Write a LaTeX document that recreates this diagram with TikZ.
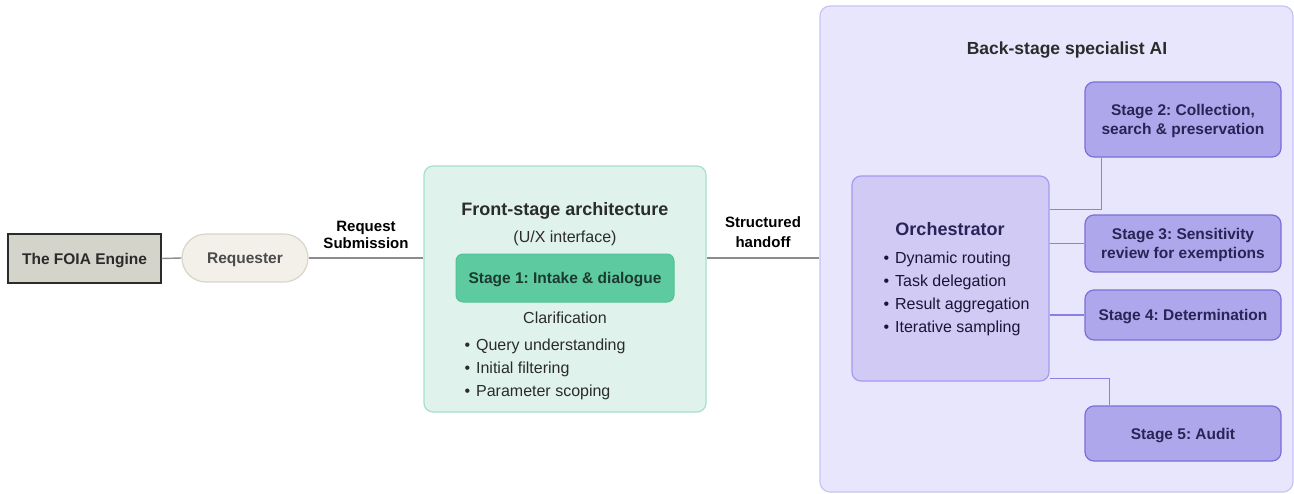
\documentclass[tikz,border=0pt]{standalone}
\usepackage{fontspec}
\setmainfont{Liberation Sans}
\frenchspacing
\definecolor{foiafill}{HTML}{D4D4CA}
\definecolor{foiadraw}{HTML}{2B2B2B}
\definecolor{reqfill}{HTML}{F2F0E9}
\definecolor{reqdraw}{HTML}{D8D5CB}
\definecolor{frontfill}{HTML}{DFF3EC}
\definecolor{frontdraw}{HTML}{A5E1C9}
\definecolor{sonefill}{HTML}{5DCAA0}
\definecolor{sonedraw}{HTML}{52C297}
\definecolor{sonetext}{HTML}{1C3A2F}
\definecolor{backfill}{HTML}{E8E6FD}
\definecolor{backdraw}{HTML}{C9C3F7}
\definecolor{orchfill}{HTML}{D0CAF5}
\definecolor{orchdraw}{HTML}{A49AF0}
\definecolor{stagefill}{HTML}{AFA7EB}
\definecolor{stagedraw}{HTML}{7A6FD6}
\definecolor{purpline}{HTML}{8B80E3}
\definecolor{grayline}{HTML}{8C8C8C}
\definecolor{darktext}{HTML}{2B2B2B}
\definecolor{navytext}{HTML}{282456}
\tikzset{
  every node/.append style={text depth=0pt},
  boldtxt/.style={font=\fontsize{15.5}{18}\selectfont\bfseries},
  regtxt/.style={font=\fontsize{16}{23}\selectfont},
  headtxt/.style={font=\fontsize{18}{21}\selectfont\bfseries},
  foiabox/.style={draw=foiadraw, fill=foiafill, line width=1.2pt, boldtxt, text=darktext, inner sep=0pt},
  reqbox/.style={draw=reqdraw, fill=reqfill, line width=1.2pt, rounded corners=24pt, boldtxt, text=darktext!85!white, inner sep=0pt},
  frontbox/.style={draw=frontdraw, fill=frontfill, line width=1.2pt, rounded corners=9pt, inner sep=0pt},
  sonebox/.style={draw=sonedraw, fill=sonefill, line width=1pt, rounded corners=7pt, boldtxt, text=sonetext, inner sep=0pt},
  backbox/.style={draw=backdraw, fill=backfill, line width=1.2pt, rounded corners=10pt, inner sep=0pt},
  orchbox/.style={draw=orchdraw, fill=orchfill, line width=1.2pt, rounded corners=9pt, inner sep=0pt},
  stagebox/.style={draw=stagedraw, fill=stagefill, line width=1.2pt, rounded corners=9pt, boldtxt, text=navytext, align=center, inner sep=0pt},
  gline/.style={draw=grayline, line width=1.4pt},
  pline/.style={draw=purpline, line width=1.2pt},
}
\begin{document}
\begin{tikzpicture}[x=1pt,y=-1pt]
\useasboundingbox[fill=white] (0,0) rectangle (1294,493);
% left part
\node[foiabox, minimum width=153, minimum height=49] (foia) at (84.5,258.5) {The FOIA Engine};
\node[reqbox, minimum width=126, minimum height=48] (req) at (245,258) {Requester};
\node[frontbox, minimum width=282, minimum height=246] (front) at (565,289) {};
\node[sonebox, minimum width=218, minimum height=48] (s1) at (565,278) {Stage 1: Intake \& dialogue};
\node[headtxt, text=darktext] (fronttitle) at (565,208.5) {Front-stage architecture};
\node[regtxt, text=darktext] (ux) at (565,237) {(U/X interface)};
\node[regtxt, text=darktext] (clar) at (565,318) {Clarification};
\node[regtxt, text=darktext, anchor=west, align=left] (frontlist) at (461,368) {•\kern6pt Query understanding\\ •\kern6pt Initial filtering\\ •\kern6pt Parameter scoping};
\node[boldtxt, text=black, align=center, font=\fontsize{15}{17}\selectfont\bfseries] (reqlabel) at (366,235) {Request\\Submission};
\node[boldtxt, text=black, align=center, font=\fontsize{15}{20}\selectfont\bfseries] (handoff) at (763,232) {Structured\\handoff};
\draw[gline] (foia.east) -- (req.west);
\draw[gline] (req.east) -- (req.east -| front.west);
% back stage
\node[backbox, minimum width=473, minimum height=486] (back) at (1056.5,249) {};
\draw[gline] (front.east |- req.east) -- (back.west |- req.east);
\node[headtxt, text=darktext, font=\fontsize{17.5}{21}\selectfont\bfseries] (backtitle) at (1067,48) {Back-stage specialist AI};
\node[orchbox, minimum width=197, minimum height=205] (orch) at (950.5,278.5) {};
\node[stagebox, minimum width=196, minimum height=75, font=\fontsize{15.5}{19}\selectfont\bfseries] (s2) at (1183,119.5) {Stage 2: Collection,\\search \& preservation};
\node[stagebox, minimum width=196, minimum height=57, font=\fontsize{15.5}{19}\selectfont\bfseries] (s3) at (1183,243.5) {Stage 3: Sensitivity\\review for exemptions};
\node[stagebox, minimum width=196, minimum height=50] (s4) at (1183,315) {Stage 4: Determination};
\node[stagebox, minimum width=196, minimum height=55] (s5) at (1183,433.5) {Stage 5: Audit};
\draw[pline] ([yshift=-34]orch.north east) -| ([xshift=17]s2.south west);
\draw[pline] (orch.east |- s3.west) -- (s3.west);
\draw[pline] (orch.east |- s4.west) -- (s4.west);
\draw[pline] ([yshift=3]orch.south east) -| ([xshift=25]s5.north west);
\node[headtxt, text=navytext] (orchtitle) at (950,229) {Orchestrator};
\node[regtxt, text=navytext!60!black, anchor=west, align=left] (orchlist) at (880,292.5) {•\kern6pt Dynamic routing\\ •\kern6pt Task delegation\\ •\kern6pt Result aggregation\\ •\kern6pt Iterative sampling};
\end{tikzpicture}
\end{document}
